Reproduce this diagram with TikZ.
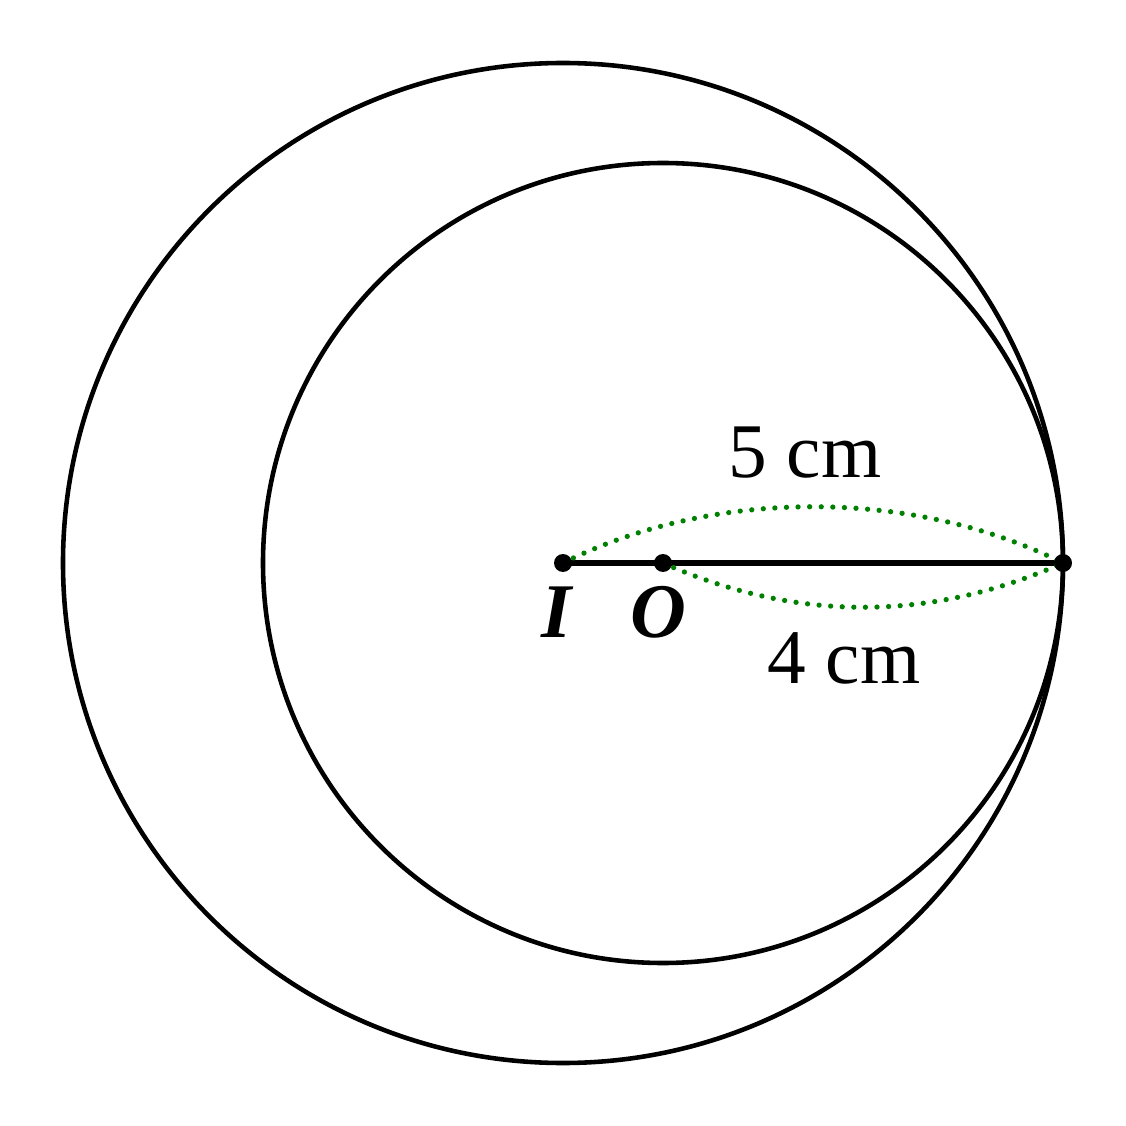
\documentclass[tikz,border=0pt]{standalone}
\usepackage{fontspec}
\setmainfont{Liberation Serif}
\usetikzlibrary{positioning}
\definecolor{dotgreen}{RGB}{0,128,0}

\begin{document}
\begin{tikzpicture}[
    dot/.style={circle, fill=black, inner sep=0pt, minimum size=0.18cm},
    gap/.style={dotgreen, line width=1.5pt, line cap=round, dash pattern=on 0pt off 3.3pt},
    lbl/.style={font=\fontsize{22}{25}\selectfont}
  ]
    \useasboundingbox (-5.63,-5.63) rectangle (5.63,5.63);

    % Centres and tangent point
    \coordinate (I) at (0,0);
    \coordinate (O) at (1,0);
    \coordinate (T) at (5,0);

    % Circles
    \draw[line width=1.3pt] (I) circle (5);
    \draw[line width=1.3pt] (O) circle (4);

    % Radius line
    \draw[line width=1.5pt] (I) -- (T);

    % Dotted distance curves
    \draw[gap] (I) .. controls (1.5,0.75) and (3.5,0.75) .. (T);
    \draw[gap] (O) .. controls (2.33,-0.59) and (3.67,-0.59) .. (T);

    % Points
    \node[dot] (pI) at (I) {};
    \node[dot] (pO) at (O) {};
    \node[dot] (pT) at (T) {};

    % Labels
    \node[lbl] (lI) at (-0.05,-0.49) {\textbf{\textit{I}}};
    \node[lbl] (lO) at (0.95,-0.49) {\textbf{\textit{O}}};
    \node[lbl] (l5) at (2.42,1.1) {5 cm};
    \node[lbl] (l4) at (2.81,-0.95) {4 cm};
\end{tikzpicture}
\end{document}
